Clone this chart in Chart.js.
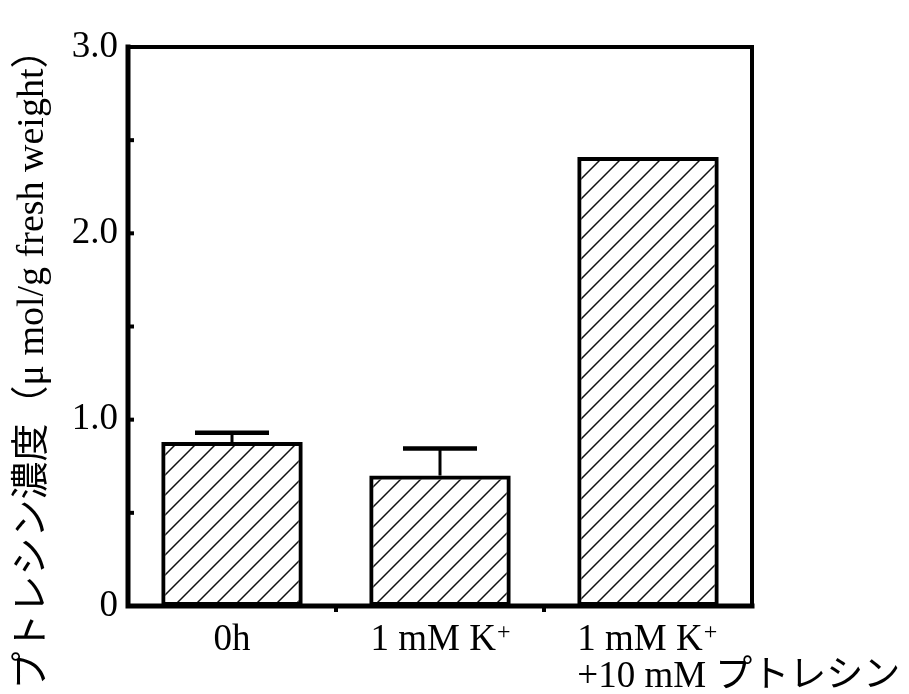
<!DOCTYPE html>
<html>
<head>
<meta charset="utf-8">
<script src="https://cdn.jsdelivr.net/npm/chart.js@4"></script>
<style>
html,body{margin:0;padding:0;background:#fff;}
#wrap{width:909px;height:694px;}
</style>
</head>
<body>
<div id="wrap"><canvas id="c" width="909" height="694"></canvas></div>
<script>
// ---- data ----
const categories = ['0h', '1 mM K+', '1 mM K+|+10 mM プトレシン'];
const values = [0.88, 0.70, 2.41];
const errors = [0.05, 0.145, 0];
const yTickValues = [0, 1, 2, 3];
const yTickLabels = ['0', '1.0', '2.0', '3.0'];
const yTitle = 'プトレシン濃度（μ mol/g fresh weight）';

const SERIF = "'Liberation Serif', 'Noto Sans CJK JP', serif";
const canvas = document.getElementById('c');
const ctx = canvas.getContext('2d');

function makeHatch() {
  const s = 20;
  const c = document.createElement('canvas');
  c.width = s; c.height = s;
  const g = c.getContext('2d');
  g.strokeStyle = '#111';
  g.lineWidth = 1.5;
  g.beginPath();
  g.moveTo(0, s); g.lineTo(s, 0);
  g.moveTo(-s, s); g.lineTo(s, -s);
  g.moveTo(0, 2 * s); g.lineTo(2 * s, 0);
  g.stroke();
  return ctx.createPattern(c, 'repeat');
}

// draw a text line where "K+" gets a superscript "+"
function drawRich(g, text, x, y, align, size) {
  const segs = [];
  const re = /K\+/g;
  let last = 0, m;
  while ((m = re.exec(text)) !== null) {
    segs.push({t: text.slice(last, m.index + 1), sup: false});
    segs.push({t: '+', sup: true});
    last = m.index + 2;
  }
  if (last < text.length) segs.push({t: text.slice(last), sup: false});
  const fN = size + 'px ' + SERIF;
  const fS = Math.round(size * 0.66) + 'px ' + SERIF;
  let total = 0;
  segs.forEach(s => { g.font = s.sup ? fS : fN; s.w = g.measureText(s.t).width; total += s.w; });
  let cx = align === 'center' ? x - total / 2 : x;
  g.textAlign = 'left';
  g.textBaseline = 'alphabetic';
  segs.forEach(s => {
    g.font = s.sup ? fS : fN;
    g.fillText(s.t, cx + (s.sup ? 1 : 0), s.sup ? y - size * 0.3 : y);
    cx += s.w + (s.sup ? 1 : 0);
  });
}

const framePlugin = {
  id: 'frame',
  beforeDraw(chart) {
    const g = chart.ctx;
    g.save();
    g.fillStyle = '#fff';
    g.fillRect(0, 0, chart.width, chart.height);
    g.restore();
  },
  afterDatasetsDraw(chart) {
    const g = chart.ctx;
    const a = chart.chartArea;
    const ys = chart.scales.y;
    const xs = chart.scales.x;
    const meta = chart.getDatasetMeta(0);
    g.save();
    g.strokeStyle = '#000';
    g.lineCap = 'square';
    // top and right frame
    g.lineWidth = 4;
    g.beginPath();
    g.moveTo(a.left, a.top); g.lineTo(a.right, a.top); g.lineTo(a.right, a.bottom);
    g.stroke();
    // left and bottom axes
    g.lineWidth = 5;
    g.beginPath();
    g.moveTo(a.left, a.top); g.lineTo(a.left, a.bottom); g.lineTo(a.right, a.bottom);
    g.stroke();
    // inward y ticks
    g.lineWidth = 4;
    g.lineCap = 'butt';
    for (let v = 0.5; v < 3; v += 0.5) {
      const py = ys.getPixelForValue(v);
      g.beginPath(); g.moveTo(a.left, py); g.lineTo(a.left + 6, py); g.stroke();
    }
    // small x ticks at category boundaries
    for (let i = 0; i < categories.length - 1; i++) {
      const px = (xs.getPixelForValue(i) + xs.getPixelForValue(i + 1)) / 2;
      g.beginPath(); g.moveTo(px, a.bottom); g.lineTo(px, a.bottom + 6); g.stroke();
    }
    // error bars
    meta.data.forEach((bar, i) => {
      if (!errors[i]) return;
      const top = ys.getPixelForValue(values[i] + errors[i]);
      const base = ys.getPixelForValue(values[i]);
      g.lineWidth = 3;
      g.beginPath(); g.moveTo(bar.x, base); g.lineTo(bar.x, top); g.stroke();
      g.lineWidth = 4.5;
      g.beginPath(); g.moveTo(bar.x - 37, top); g.lineTo(bar.x + 37, top); g.stroke();
    });
    g.restore();

    // x labels
    g.save();
    g.fillStyle = '#000';
    meta.data.forEach((bar, i) => {
      const lines = categories[i].split('|');
      if (lines.length === 1) {
        drawRich(g, lines[0], bar.x, a.bottom + 44, 'center', 37);
      } else {
        const left = bar.x - bar.width / 2;
        lines.forEach((ln, k) => drawRich(g, ln, left, a.bottom + 44 + k * 37, 'left', 37));
      }
    });
    // y title
    g.translate(33, 360);
    g.rotate(-Math.PI / 2);
    g.font = '38px ' + SERIF;
    g.textAlign = 'center';
    g.textBaseline = 'middle';
    g.fillText(yTitle, 0, 0);
    g.restore();
  }
};

new Chart(ctx, {
  type: 'bar',
  data: {
    labels: categories,
    datasets: [{
      data: values,
      backgroundColor: makeHatch(),
      borderColor: '#000',
      borderWidth: 4,
      borderSkipped: false,
      barPercentage: 0.68,
      categoryPercentage: 1.0
    }]
  },
  options: {
    responsive: false,
    animation: false,
    devicePixelRatio: 1,
    layout: {padding: {left: 28, right: 157, top: 47, bottom: 88}},
    plugins: {legend: {display: false}, tooltip: {enabled: false}},
    scales: {
      x: {display: false},
      y: {
        min: 0, max: 3,
        afterFit(scale) { scale.width = 100; },
        afterBuildTicks(scale) { scale.ticks = yTickValues.map(v => ({value: v})); },
        grid: {display: false, drawTicks: false},
        border: {display: false},
        ticks: {
          padding: 10,
          color: '#000',
          font: {family: SERIF, size: 37},
          callback: (v) => { const i = yTickValues.indexOf(v); return i >= 0 ? yTickLabels[i] : ''; }
        }
      }
    }
  },
  plugins: [framePlugin]
});
</script>
</body>
</html>
